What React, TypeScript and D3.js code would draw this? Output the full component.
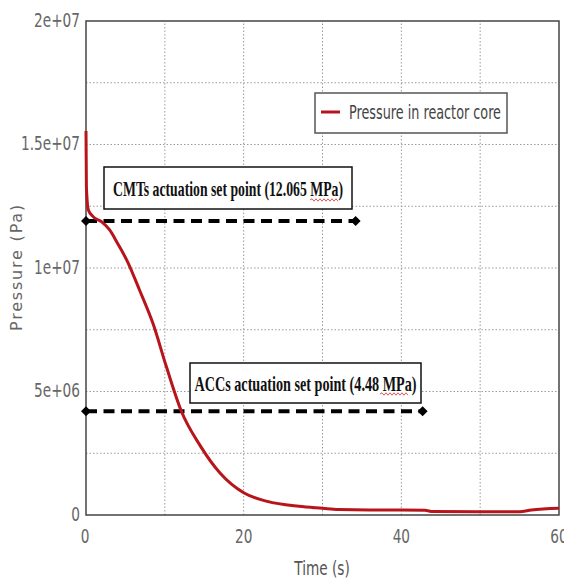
import React from "react";
import * as d3 from "d3";

const timeS = [0, 0.05, 0.3, 0.9, 2, 3, 4, 5.2, 6.8, 8.5, 10.2, 12.1, 14.5, 17, 20, 23, 27, 30, 32, 36, 40, 43, 44, 50, 55, 56.5, 60];
const pressureMPa = [15.55, 13.3, 12.35, 12.08, 11.87, 11.54, 11.0, 10.3, 9.1, 7.75, 6.0, 4.2, 2.8, 1.7, 0.9, 0.55, 0.35, 0.27, 0.22, 0.2, 0.2, 0.19, 0.14, 0.13, 0.13, 0.2, 0.27];

const yTicks = [0, 5e6, 1e7, 1.5e7, 2e7];
const yTickLabels = ["0", "5e+06", "1e+07", "1.5e+07", "2e+07"];
const yGrid = [2.5e6, 5e6, 7.5e6, 1e7, 1.25e7, 1.5e7, 1.75e7];
const xTicks = [0, 20, 40, 60];
const xGrid = [10, 20, 30, 40, 50];

const setPointLabels = ["CMTs actuation set point (12.065 MPa)", "ACCs actuation set point (4.48 MPa)"];
const setPointLevels = [11.9e6, 4.2e6];
const setPointEnds = [34.2, 42.7];

const legendLabel = "Pressure in reactor core";

const W = 564, H = 579;
const x = d3.scaleLinear().domain([0, 60]).range([86, 559]);
const y = d3.scaleLinear().domain([0, 2e7]).range([515, 21]);

function squiggle(x0: number, x1: number, yy: number) {
  let p = `M${x0},${yy}`;
  let up = true;
  for (let xx = x0 + 2; xx <= x1; xx += 2) {
    p += ` L${xx},${yy + (up ? -1.2 : 1.2)}`;
    up = !up;
  }
  return p;
}

const tickFont = "'DejaVu Sans', sans-serif";

function Narrow({ tx, ty, anchor, size, fill, children, sx = 0.72 }: any) {
  return (
    <g transform={`translate(${tx},${ty}) scale(${sx},1)`}>
      <text x={0} y={0} dy="0.35em" textAnchor={anchor} fontFamily={tickFont} fontSize={size} fill={fill}>
        {children}
      </text>
    </g>
  );
}

export default function App() {
  const line = d3
    .line<number>()
    .x((_, i) => x(timeS[i]))
    .y((d) => y(d * 1e6))
    .curve(d3.curveMonotoneX);
  const path = line(pressureMPa) || "";

  const boxes = [
    { x0: 104, x1: 352, y0: 167, y1: 209, tl: 230, sq: [310, 338, 200] },
    { x0: 190, x1: 421, y0: 363, y1: 403, tl: 222, sq: [380, 409, 394] },
  ];

  return (
    <svg width={W} height={H} style={{ position: "absolute", left: 0, top: 0, background: "#fff" }}>
      <rect x={0} y={0} width={W} height={H} fill="#fff" />
      {/* grid */}
      {yGrid.map((v) => (
        <line key={"gy" + v} x1={x(0)} x2={x(60)} y1={y(v)} y2={y(v)} stroke="#9a9a9a" strokeWidth={1} strokeDasharray="1.5,2" />
      ))}
      {xGrid.map((v) => (
        <line key={"gx" + v} x1={x(v)} x2={x(v)} y1={y(0)} y2={y(2e7)} stroke="#9a9a9a" strokeWidth={1} strokeDasharray="1.5,2" />
      ))}
      {/* frame */}
      <rect x={x(0)} y={y(2e7)} width={x(60) - x(0)} height={y(0) - y(2e7)} fill="none" stroke="#444" strokeWidth={1.5} />

      {/* y tick labels */}
      {yTicks.map((v, i) => (
        <Narrow key={"yl" + v} tx={80} ty={y(v) - 1} anchor="end" size={19} fill="#666">
          {yTickLabels[i]}
        </Narrow>
      ))}
      {/* x tick labels */}
      {xTicks.map((v) => (
        <Narrow key={"xl" + v} tx={v === 0 ? x(v) - 1 : x(v)} ty={536} anchor="middle" size={19} fill="#666">
          {String(v)}
        </Narrow>
      ))}
      {/* axis titles */}
      <Narrow tx={322} ty={568} anchor="middle" size={19} fill="#555">
        Time (s)
      </Narrow>
      <text
        transform={`translate(16,267) rotate(-90)`}
        textAnchor="middle"
        dy="0.35em"
        fontFamily="'DejaVu Sans', sans-serif"
        fontSize={16}
        letterSpacing={1.8}
        fill="#666"
      >
        Pressure (Pa)
      </text>

      {/* set point dashed lines */}
      {setPointLevels.map((v, i) => (
        <g key={"sp" + i}>
          <line x1={x(0)} x2={x(setPointEnds[i])} y1={y(v)} y2={y(v)} stroke="#000" strokeWidth={4} strokeDasharray="11,6.5" />
          <path d={`M${x(0)},${y(v) - 5} l5,5 l-5,5 l-5,-5 z`} fill="#000" />
          <path d={`M${x(setPointEnds[i])},${y(v) - 5} l5,5 l-5,5 l-5,-5 z`} fill="#000" />
        </g>
      ))}

      {/* pressure curve */}
      <path d={path} fill="none" stroke="#b8141c" strokeWidth={3} strokeLinejoin="round" />

      {/* annotation boxes */}
      {boxes.map((b, i) => (
        <g key={"bx" + i}>
          <rect x={b.x0} y={b.y0} width={b.x1 - b.x0} height={b.y1 - b.y0} fill="#fff" stroke="#111" strokeWidth={1.5} />
          <text
            x={(b.x0 + b.x1) / 2}
            y={(b.y0 + b.y1) / 2}
            dy="0.35em"
            textAnchor="middle"
            fontFamily="'Liberation Serif', 'Times New Roman', serif"
            fontWeight="bold"
            fontSize={22}
            textLength={b.tl}
            lengthAdjust="spacingAndGlyphs"
            fill="#111"
          >
            {setPointLabels[i]}
          </text>
          <path d={squiggle(b.sq[0], b.sq[1], b.sq[2])} fill="none" stroke="#d03030" strokeWidth={0.8} />
        </g>
      ))}

      {/* legend */}
      <rect x={315} y={93} width={192} height={40} fill="#fff" stroke="#555" strokeWidth={1.5} />
      <line x1={321} x2={340} y1={112} y2={112} stroke="#b8141c" strokeWidth={3} />
      <text x={349} y={112} dy="0.35em" fontFamily={tickFont} fontSize={19} fill="#444" textLength={152} lengthAdjust="spacingAndGlyphs">
        {legendLabel}
      </text>
    </svg>
  );
}
